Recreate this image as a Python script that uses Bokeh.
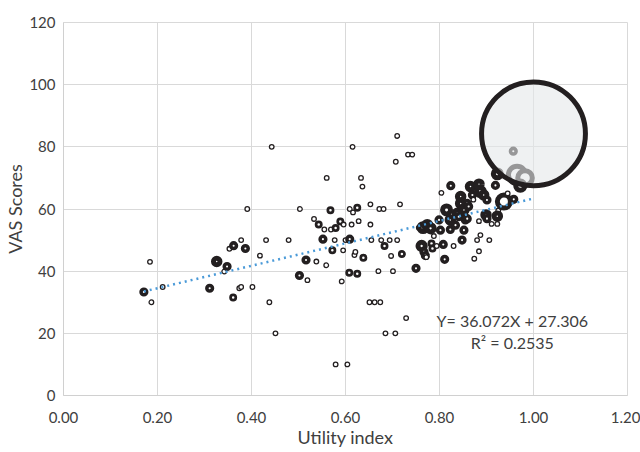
import numpy as np
from bokeh.plotting import figure
from bokeh.models import Range1d, FixedTicker, NumeralTickFormatter, ColumnDataSource, Label
from bokeh.embed import file_html
from bokeh.resources import INLINE

# ---- data ----
utility = [0.171, 0.184, 0.187, 0.211, 0.311, 0.326, 0.342, 0.348, 0.353, 0.362,
           0.361, 0.374, 0.378, 0.378, 0.387, 0.391, 0.402, 0.418, 0.431, 0.438,
           0.443, 0.451, 0.479, 0.502, 0.503, 0.516, 0.519, 0.533, 0.538, 0.543,
           0.552, 0.555, 0.559, 0.560, 0.568, 0.569, 0.572, 0.577, 0.579, 0.579,
           0.589, 0.592, 0.595, 0.596, 0.600, 0.604, 0.608, 0.609, 0.609, 0.613,
           0.615, 0.616, 0.619, 0.621, 0.625, 0.625, 0.628, 0.633, 0.636, 0.638,
           0.651, 0.653, 0.653, 0.655, 0.662, 0.670, 0.672, 0.674, 0.676, 0.681,
           0.683, 0.685, 0.694, 0.697, 0.701, 0.706, 0.707, 0.710, 0.710, 0.716,
           0.720, 0.729, 0.733, 0.742, 0.750, 0.756, 0.762, 0.765, 0.767, 0.770,
           0.772, 0.774, 0.781, 0.783, 0.785, 0.788, 0.794, 0.799, 0.802, 0.804,
           0.808, 0.811, 0.815, 0.823, 0.823, 0.824, 0.830, 0.834, 0.838, 0.841,
           0.845, 0.845, 0.848, 0.848, 0.852, 0.852, 0.855, 0.859, 0.859, 0.862,
           0.866, 0.870, 0.872, 0.874, 0.880, 0.884, 0.884, 0.887, 0.887, 0.884,
           0.894, 0.899, 0.901, 0.901, 0.906, 0.911, 0.919, 0.923, 0.925, 0.923,
           0.923, 0.937, 0.958, 0.945, 0.957, 0.965, 0.982, 0.972]
vas = [33.3, 43.0, 30.0, 34.9, 34.5, 43.1, 39.9, 41.5, 47.2, 48.2,
       31.5, 34.5, 34.9, 50.0, 47.3, 60.0, 34.9, 45.0, 50.0, 30.0,
       80.0, 20.0, 50.0, 38.6, 60.0, 43.6, 37.1, 56.8, 43.1, 55.0,
       50.3, 53.4, 41.9, 70.0, 59.6, 53.4, 46.7, 50.0, 53.9, 10.0,
       56.0, 36.7, 46.7, 55.0, 50.0, 10.0, 39.5, 50.3, 60.0, 55.0,
       80.0, 58.9, 45.2, 46.2, 39.2, 60.4, 56.1, 70.0, 67.2, 44.3,
       30.0, 61.5, 55.0, 50.0, 30.0, 40.0, 60.0, 30.0, 50.0, 60.0,
       48.1, 20.0, 50.0, 44.9, 40.0, 20.0, 75.2, 83.5, 50.0, 61.5,
       45.5, 24.9, 77.5, 77.5, 40.9, 54.0, 48.1, 54.0, 46.2, 45.0,
       44.5, 54.8, 53.8, 48.9, 47.3, 51.3, 48.1, 56.5, 53.2, 65.2,
       48.6, 43.8, 59.7, 56.5, 53.4, 67.5, 48.1, 54.8, 58.6, 57.5,
       61.8, 64.0, 50.0, 59.1, 53.2, 59.7, 56.5, 61.8, 56.9, 60.8,
       67.2, 64.5, 63.0, 44.0, 50.0, 46.4, 56.1, 51.6, 65.6, 68.0,
       64.5, 58.1, 62.9, 56.9, 50.0, 55.2, 67.6, 71.3, 59.5, 55.2,
       57.7, 62.4, 63.1, 65.0, 78.6, 71.0, 70.0, 67.5]
bubble = [1.5, 1, 1, 1, 1.5, 2, 1, 1.5, 1, 1.5,
          1.3, 1, 1, 1, 1.5, 1, 1, 1, 1, 1,
          1, 1, 1, 1.5, 1, 1.5, 1, 1, 1, 1.3,
          1.5, 1, 1, 1, 1.3, 1, 1.3, 1, 1.3, 1,
          1.3, 1, 1, 1, 1, 1, 1.3, 1.5, 1, 1,
          1, 1, 1, 1, 1.3, 1.3, 1, 1, 1, 1.3,
          1, 1, 1, 1, 1, 1, 1, 1, 1, 1,
          1.3, 1, 1, 1, 1, 1, 1, 1, 1, 1,
          1.3, 1, 1, 1, 1.5, 1, 2.5, 3, 1.5, 1.5,
          1, 2.5, 2.5, 1.3, 1.3, 1, 1, 1.5, 1.5, 1,
          1.5, 1.5, 3, 2, 1.5, 1.5, 1, 1.5, 2, 1.5,
          2, 2, 1.5, 1.5, 1.5, 2, 1.5, 1.5, 1.5, 1.5,
          2, 1.5, 1, 1, 1, 1, 1, 1, 3, 2,
          2, 2, 1.5, 1.5, 1, 1, 1.5, 3, 1, 1,
          2, 8, 1.5, 1, 1.5, 14, 10, 4]

big_utility = [1.0]
big_vas = [84.2]
big_bubble = [510]

slope = 36.072
intercept = 27.306
r_squared = 0.2535

x_ticks = [0.0, 0.2, 0.4, 0.6, 0.8, 1.0, 1.2]
y_ticks = [0, 20, 40, 60, 80, 100, 120]
x_title = "Utility index"
y_title = "VAS Scores"

# ---- styling helpers ----
def sizes(v):
    v = np.asarray(v, dtype=float)
    return 4.6 * np.sqrt(v)

def widths(v):
    v = np.asarray(v, dtype=float)
    return np.minimum(5.0, 1.3 + 10.0 * (np.sqrt(v) - 1.0))

FONT = "Lato"
TXT = "#404040"

p = figure(width=640, height=452, x_range=Range1d(0, 1.2), y_range=Range1d(0, 120),
           output_backend="svg", toolbar_location=None,
           min_border_left=63, min_border_right=13, min_border_top=22, min_border_bottom=57)
p.background_fill_color = "white"
p.border_fill_color = "white"
p.outline_line_color = "#d9d9d9"

for g, t in ((p.xgrid, x_ticks), (p.ygrid, y_ticks)):
    g.ticker = FixedTicker(ticks=t)
    g.grid_line_color = "#d9d9d9"
    g.grid_line_width = 1

p.xaxis.ticker = FixedTicker(ticks=x_ticks)
p.yaxis.ticker = FixedTicker(ticks=y_ticks)
p.xaxis.formatter = NumeralTickFormatter(format="0.00")
p.yaxis.formatter = NumeralTickFormatter(format="0")
for ax in (p.xaxis[0], p.yaxis[0]):
    ax.major_tick_line_color = None
    ax.minor_tick_line_color = None
    ax.major_tick_out = 0
    ax.major_tick_in = 0
    ax.minor_tick_out = 0
    ax.minor_tick_in = 0
    ax.axis_line_color = "#d0d0d0"
    ax.major_label_text_font = FONT
    ax.major_label_text_font_size = "15px"
    ax.major_label_text_color = TXT
    ax.axis_label_text_font = FONT
    ax.axis_label_text_font_size = "18px"
    ax.axis_label_text_font_style = "normal"
    ax.axis_label_text_color = TXT
p.xaxis.axis_label = x_title
p.yaxis.axis_label = y_title
p.xaxis.major_label_standoff = 16
p.yaxis.major_label_standoff = 8
p.xaxis.axis_label_standoff = 0
p.yaxis.axis_label_standoff = 0

src = ColumnDataSource(dict(x=utility, y=vas, s=sizes(bubble), lw=widths(bubble)))
p.scatter("x", "y", size="s", line_width="lw", source=src, marker="circle",
          fill_color="white", line_color="#231f20")

x0 = min(utility + big_utility)
x1 = max(utility + big_utility)
tx = np.array([x0, x1])
p.line(tx, slope * tx + intercept, line_color="#4a9ad8", line_width=2.5, line_dash="2 4")

bsrc = ColumnDataSource(dict(x=big_utility, y=big_vas, s=sizes(big_bubble), lw=widths(big_bubble)))
p.scatter("x", "y", size="s", line_width="lw", source=bsrc, marker="circle",
          fill_color="#e4e7ea", fill_alpha=0.6, line_color="#231f20")

eq1 = "Y= %.3fX + %.3f" % (slope, intercept)
eq2 = "R\u00b2 = %.4f" % r_squared
p.add_layout(Label(x=0.955, y=24.2, text=eq1, text_align="center", text_baseline="middle",
                   text_font=FONT, text_font_size="16px", text_color=TXT))
p.add_layout(Label(x=0.955, y=17.0, text=eq2, text_align="center", text_baseline="middle",
                   text_font=FONT, text_font_size="16px", text_color=TXT))

open("out.html", "w").write(file_html(p, INLINE))
